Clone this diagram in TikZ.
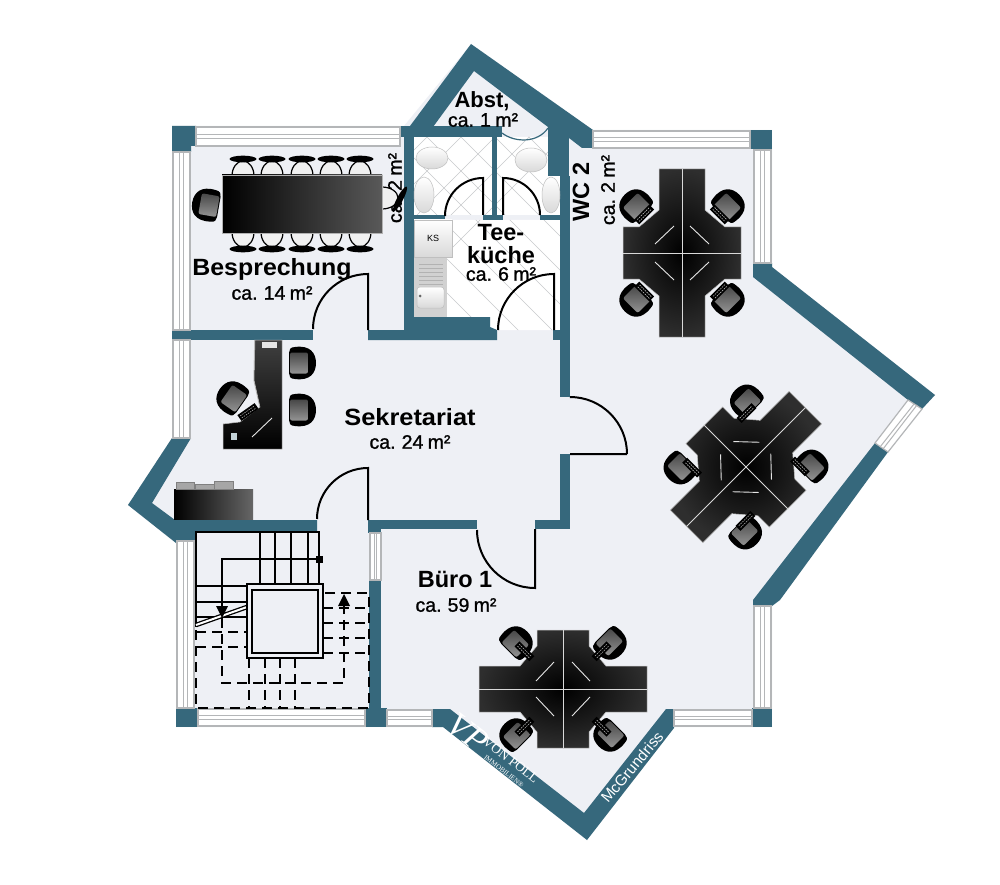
\documentclass[tikz,border=0pt]{standalone}
\usepackage{graphicx}
\usepackage{fontspec}
\setmainfont{Liberation Sans}
\newfontfamily\markfont{Liberation Serif}
\newfontfamily\areafont[FakeBold=1.2, WordSpace=0.8]{Liberation Sans}
\definecolor{wallteal}{HTML}{36687C}
\definecolor{floorgrey}{HTML}{EEF0F5}
\definecolor{windowgrey}{HTML}{B4B6B8}
\definecolor{tilegrey}{HTML}{C8CACC}
\tikzset{
  wall/.style={fill=wallteal},
  window/.style={fill=white, draw=windowgrey, line width=1.2pt},
  windowbar/.style={draw=windowgrey, line width=1pt},
  door/.style={draw=black, line width=2pt},
  stairline/.style={draw=black, line width=2.2pt},
  stairdash/.style={draw=black, line width=2.2pt, dash pattern=on 10pt off 6pt},
  desktop/.style={inner color=black, outer color=black!82, draw=black!22, line width=0.5pt},
  monitor/.style={draw=white!90!black, line width=0.9pt},
  fixture/.style={draw=black!25, line width=0.5pt, top color=white, bottom color=black!15},
  roomname/.style={font=\fontsize{23.5}{24}\selectfont\bfseries, inner sep=0pt},
  roomarea/.style={font=\areafont\fontsize{19.5}{20}\selectfont, inner sep=0pt},
  officechair/.pic={
    \fill[black] (-16,5) .. controls (-18,-10) and (-10,-16) .. (0,-16) .. controls (10,-16) and (18,-10) .. (16,5) .. controls (16,10) and (13,11) .. (10,11) -- (-10,11) .. controls (-13,11) and (-16,10) .. (-16,5) -- cycle;
    \shade[top color=black!72, bottom color=black!42, rounded corners=2pt] (-10.5,-8) rectangle (10.5,10);
  },
  keyboard/.pic={
    \fill[black] (-10.5,-3.5) rectangle (10.5,3.5);
    \draw[white!70!black, line width=0.6pt, dash pattern=on 1.5pt off 1pt] (-8.5,-1.3) -- (8.5,-1.3) (-8.5,1.3) -- (8.5,1.3);
  },
  deskgroup/.pic={
    \shade[desktop] (-23,-84) -- (23,-84) -- (23,-43) -- (43,-26) -- (59,-26) -- (59,26) -- (43,26) -- (23,43) -- (23,84) -- (-23,84) -- (-23,43) -- (-43,26) -- (-59,26) -- (-59,-26) -- (-43,-26) -- (-23,-43) -- cycle;
    \draw[draw=black!15, line width=1pt] (0,-84) -- (0,84) (-59,0) -- (59,0);
    \draw[monitor] (-27,-9) -- (-8,-27) (27,-9) -- (8,-27) (-27,9) -- (-8,27) (27,9) -- (8,27);
    \foreach \px/\py/\rot in {-46/-47/45, 46/-47/-45, -46/47/135, 46/47/-135} {
      \pic[rotate=\rot] at (\px,\py) {officechair};
      \pic[rotate=\rot] at ({\px*0.82},{\py*0.82}) {keyboard};
    }
  },
}
\newcommand{\windowh}[4]{%
  \draw[window] (#1,#2) rectangle (#3,#4);
  \draw[windowbar] (#1,{#2+0.4*(#4-#2)}) -- (#3,{#2+0.4*(#4-#2)});
  \draw[windowbar] (#1,{#2+0.6*(#4-#2)}) -- (#3,{#2+0.6*(#4-#2)});
}
\newcommand{\windowv}[4]{%
  \draw[window] (#1,#2) rectangle (#3,#4);
  \draw[windowbar] ({#1+0.4*(#3-#1)},#2) -- ({#1+0.4*(#3-#1)},#4);
  \draw[windowbar] ({#1+0.6*(#3-#1)},#2) -- ({#1+0.6*(#3-#1)},#4);
}
\begin{document}
\begin{tikzpicture}[x=1pt, y=-1pt]
  \path[use as bounding box, fill=white] (0,0) rectangle (1000,885);
  % floor
  \fill[floorgrey] (172,126) -- (404,126) -- (471,44) -- (593,130) -- (772,130) -- (772,267) -- (935,395) -- (922,409) -- (888,452) -- (772,605) -- (772,727) -- (674,727) -- (587,840) -- (443,727) -- (176,727) -- (176,543) -- (128,505) -- (172,438) -- cycle;
  % tiles
  \fill[white] (414,137) rectangle (560,215) (483,215) rectangle (503,220) (414,220) rectangle (560,330);
  \begin{scope}
    \clip (414,137) rectangle (492,215) (497,137) rectangle (560,215) (414,220) rectangle (560,330);
    \foreach \d in {-100,-66,...,600} {
      \draw[tilegrey, line width=0.5pt] (\d,120) -- ++(240,240);
      \draw[tilegrey, line width=0.5pt] (\d,120) -- ++(-240,240);
    }
  \end{scope}
  % walls
  \fill[wall] (172,126) -- (196,126) -- (196,146) -- (191,146) -- (191,152) -- (172,152) -- cycle;
  \fill[wall] (172,330) rectangle (313,340);
  \fill[wall] (368,330) -- (414,330) -- (414,317) -- (490,317) -- (490,327) -- (497,330) -- (497,340) -- (368,340) -- cycle;
  \fill[wall] (553,330) rectangle (560,340);
  \fill[wall] (404,126) rectangle (414,340);
  \fill[wall] (400,126) rectangle (502,137);
  \fill[wall] (410,126) -- (471,44) -- (593,130) -- (593,148) -- (582,148) -- (569,138) -- (548,138) -- (548,127) -- (474,71) -- (433,127) -- cycle;
  \fill[wall] (548,127) rectangle (569,176);
  \fill[wall] (560,176) rectangle (570,397);
  \fill[wall] (560,454) rectangle (570,529);
  \fill[wall] (492,137) rectangle (497,220);
  \fill[wall] (414,215) rectangle (445,220);
  \fill[wall] (483,215) rectangle (503,220);
  \fill[wall] (540,215) rectangle (560,220);
  \fill[wall] (172,438) -- (191,438) -- (152,503) -- (175,520) -- (317,520) -- (317,532) -- (196,532) -- (196,540) -- (176,543) -- (128,505) -- cycle;
  \fill[wall] (368,520) rectangle (477,529);
  \fill[wall] (535,520) rectangle (570,529);
  \fill[wall] (368,520) rectangle (381,533);
  \fill[wall] (369,580) rectangle (381,708);
  \fill[wall] (176,708) rectangle (198,727);
  \fill[wall] (365,708) rectangle (387,727);
  \fill[wall] (432,709) -- (450,709) -- (584,813) -- (666,709) -- (674,709) -- (674,728) -- (587,840) -- (443,727) -- (432,727) -- cycle;
  \fill[wall] (752,708) rectangle (772,727);
  \fill[wall] (753,606) -- (772,606) -- (780,600) -- (888,452) -- (875,443) -- (753,600) -- cycle;
  \fill[wall] (753,263) -- (772,263) -- (772,267) -- (935,395) -- (922,409) -- (908,400) -- (753,277) -- cycle;
  \fill[wall] (750,130) rectangle (772,149);
  % windows
  \windowh{196}{127}{400}{146}
  \windowv{173}{152}{190}{330}
  \windowv{173}{340}{190}{438}
  \windowv{177}{541}{194}{708}
  \windowv{370}{533}{381}{580}
  \windowh{198}{709}{365}{726}
  \windowh{387}{710}{432}{726}
  \windowh{674}{710}{752}{726}
  \windowv{754}{606}{771}{708}
  \windowv{754}{150}{771}{263}
  \windowh{593}{131}{750}{148}
  \draw[window] (875,443) -- (888,452) -- (922,409) -- (908,400) -- cycle;
  \draw[windowbar] (880,447) -- (914,404) (883,449) -- (917,405);
  % wc and kitchen fittings
  \shade[fixture] (432,158) ellipse (16 and 11);
  \shade[fixture] (424,195) ellipse (10 and 18);
  \shade[fixture] (531,160) ellipse (16 and 12);
  \shade[fixture] (551,195) ellipse (9 and 18);
  \shade[fixture] (414,220) rectangle (452,257);
  \node[font=\fontsize{9}{9}\selectfont, inner sep=0pt] (ks) at (433,238) {KS};
  \fill[black!18] (414,258) rectangle (447,317);
  \foreach \y in {264,268,...,284} {
    \draw[black!30, line width=0.5pt] (419,\y) -- (443,\y);
  }
  \shade[fixture, rounded corners=3pt] (417,287) rectangle (444,308);
  \fill[black!60] (420,296) circle (1.5);
  % meeting table
  \foreach \cx in {243,272,302,331,360} {
    \draw[black, line width=1.2pt, fill=black!6] (\cx,176) ellipse (11 and 15);
    \fill[black] (\cx,159) ellipse (13.5 and 3.3);
    \draw[black, line width=1.2pt, fill=black!6] (\cx,232) ellipse (11 and 15);
    \fill[black] (\cx,249) ellipse (13.5 and 3.3);
  }
  % text under the chair
  \node[roomarea, rotate=90] (wcleft) at (395,188) {ca. 2 m²};
  \draw[black, line width=1.2pt, fill=black!6] (382,198) ellipse (16 and 11);
  \fill[black, rotate around={62:(400,199)}] (400,199) ellipse (14 and 3);
  \shade[left color=black, right color=black!65, draw=black!30, line width=0.4pt] (222,175) rectangle (382,233);
  \pic[rotate=80] at (208,205) {officechair};
  % secretary desk
  \draw[line width=1.5pt, draw=white!80!black] (255,340) -- (254,380) -- (260,407);
  \shade[top color=black!75, bottom color=black, draw=black!25, line width=0.5pt] (255,340) -- (282,340) -- (282,449) -- (223,449) -- (223,424) -- (240,422) -- (260,407) -- (254,380) -- cycle;
  \fill[white!90!black] (262,342) rectangle (277,348);
  \draw[monitor] (252,437) -- (272,418);
  \fill[white!70!wallteal] (231,433) rectangle (237,440);
  \pic[rotate=-90] at (300,363) {officechair};
  \pic[rotate=-90] at (300,410) {officechair};
  \pic[rotate=55] at (233,398) {officechair};
  \pic[rotate=35] at (248,412) {keyboard};
  % sideboard
  \shade[left color=black, right color=black!60] (174,489) rectangle (253,519);
  \draw[fill=black!35, draw=black!50, line width=0.5pt] (176,482) rectangle (194,489) (195,484) rectangle (214,489) (214,481) rectangle (233,489);
  % desk groups
  \pic at (682,253) {deskgroup};
  \pic[rotate=-45] at (746,467) {deskgroup};
  \pic[rotate=90] at (563,689) {deskgroup};
  % stairs
  \draw[stairline] (196,627) -- (196,532) -- (319,532) -- (319,583);
  \foreach \x in {260,275,291,308} {
    \draw[stairline] (\x,532) -- (\x,584);
  }
  \foreach \y in {586,602,617} {
    \draw[stairline] (196,\y) -- (247,\y);
  }
  \draw[stairline] (319,559) -- (222,559) -- (222,606);
  \fill[black] (315.5,555.5) rectangle (322.5,562.5);
  \draw[stairline, double=white, double distance=2pt, line width=1.3pt] (196,625) -- (247,607);
  \fill[black] (216,606) -- (228,606) -- (222,618) -- cycle;
  \foreach \y in {632,647} {
    \draw[stairdash] (196,\y) -- (247,\y);
  }
  \draw[stairdash] (196,630) -- (196,708) -- (369,708) -- (369,593) -- (323,593);
  \foreach \y in {608,623,638,653} {
    \draw[stairdash] (323,\y) -- (369,\y);
  }
  \foreach \x in {249,265,280,295} {
    \draw[stairdash] (\x,658) -- (\x,708);
  }
  \draw[stairdash] (222,618) -- (222,683) -- (344,683) -- (344,606);
  \fill[black] (338,606) -- (350,606) -- (344,594) -- cycle;
  \draw[black, line width=1.8pt, fill=floorgrey] (247,584) rectangle (323,658);
  \draw[black, line width=1.8pt] (252,590) rectangle (318,653);
  % doors
  \draw[door] (368,330) -- (368,274) arc[start angle=90, end angle=180, radius=55pt];
  \draw[door] (483,215) -- (483,178) arc[start angle=90, end angle=180, radius=38pt];
  \draw[door] (503,215) -- (503,178) arc[start angle=90, end angle=0, radius=37pt];
  \draw[door] (554,330) -- (554,274) arc[start angle=90, end angle=180, radius=56pt];
  \draw[door] (627,454) -- (570,454) (570,397) arc[start angle=90, end angle=0, radius=57pt];
  \draw[door] (368,520) -- (368,468) arc[start angle=90, end angle=180, radius=51pt];
  \draw[door] (535,529) -- (535,588) arc[start angle=270, end angle=180, radius=58pt];
  \draw[wallteal, line width=1.2pt] (502,133) .. controls (515,143) and (538,143) .. (548,128);
  % labels
  \node[roomname, font=\fontsize{22}{22}\selectfont\bfseries] (abst) at (482,101) {Abst,};
  \node[roomarea] (abstarea) at (483,120) {ca. 1 m²};
  \node[roomname] (tee) at (501,233) {Tee-};
  \node[roomname] (kueche) at (501,255) {küche};
  \node[roomarea] (kuechearea) at (501,274) {ca. 6 m²};
  \node[roomname] (bespr) at (272,269) {\scalebox{1.06}[1]{Besprechung}};
  \node[roomarea] (besprarea) at (272,293) {ca. 14 m²};
  \node[roomname] (sekr) at (410,417) {\scalebox{1.08}[1]{Sekretariat}};
  \node[roomarea] (sekrarea) at (410,442) {ca. 24 m²};
  \node[roomname] (buero) at (455,579) {Büro 1};
  \node[roomarea] (bueroarea) at (456,605) {ca. 59 m²};
  \node[roomname, rotate=90] (wc) at (581,192) {WC 2};
  \node[roomarea, rotate=90] (wcarea) at (608,190) {ca. 2 m²};
  % wall lettering
  \node[white, rotate=-38, inner sep=0pt, font=\markfont\itshape\fontsize{34}{34}\selectfont] (vp) at (468,733) {VP};
  \node[white, rotate=-38, inner sep=0pt, font=\markfont\fontsize{13.5}{14}\selectfont] (vonpoll) at (511,760) {VON POLL};
  \node[white, rotate=-38, inner sep=0pt, font=\markfont\fontsize{7}{7}\selectfont] (immo) at (504,771) {IMMOBILIEN®};
  \node[white, rotate=50, inner sep=0pt, font=\fontsize{15.4}{16}\selectfont] (mcg) at (632,767) {McGrundriss};
\end{tikzpicture}
\end{document}
